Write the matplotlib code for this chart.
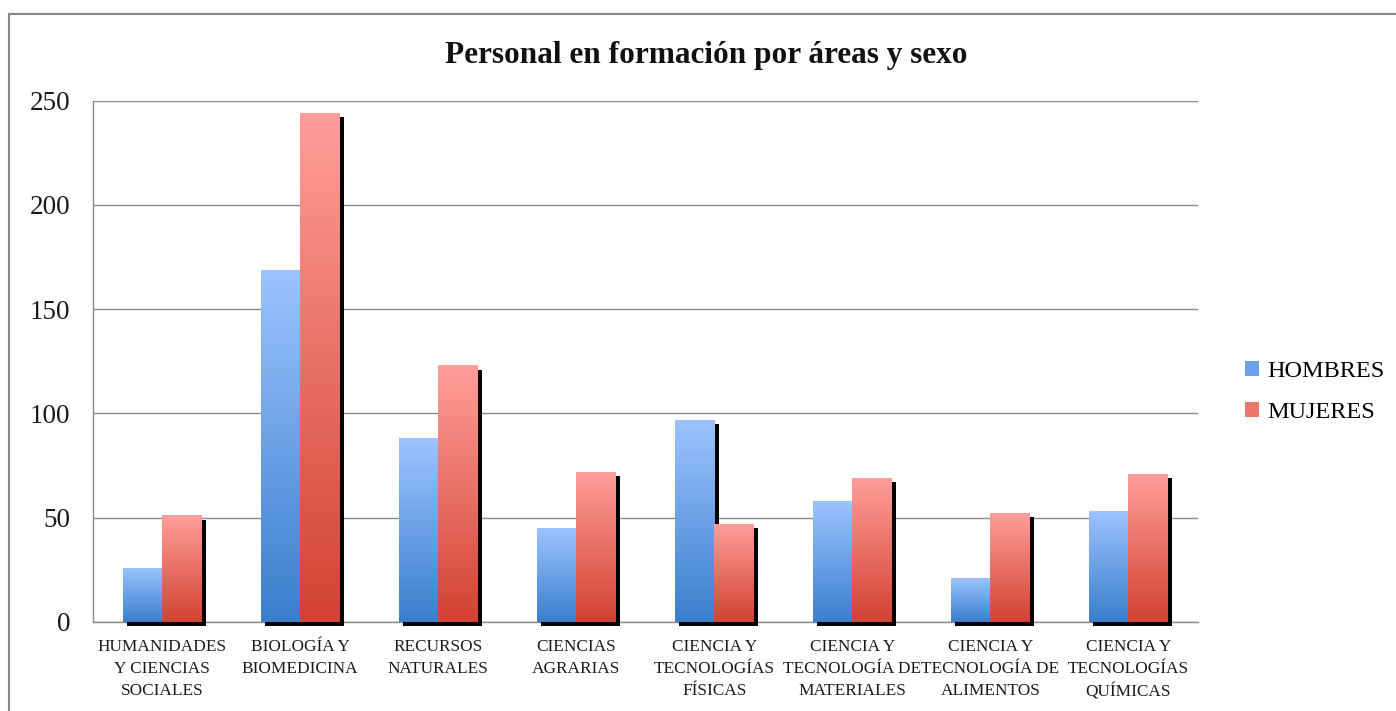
import numpy as np
import matplotlib
matplotlib.use("Agg")
import matplotlib.pyplot as plt
import matplotlib.patheffects as pe
from matplotlib.colors import LinearSegmentedColormap
from matplotlib.patches import Patch, Rectangle

# ---- data ----
categories = [
    "HUMANIDADES\nY CIENCIAS\nSOCIALES",
    "BIOLOGÍA Y\nBIOMEDICINA",
    "RECURSOS\nNATURALES",
    "CIENCIAS\nAGRARIAS",
    "CIENCIA Y\nTECNOLOGÍAS\nFÍSICAS",
    "CIENCIA Y\nTECNOLOGÍA DE\nMATERIALES",
    "CIENCIA Y\nTECNOLOGÍA DE\nALIMENTOS",
    "CIENCIA Y\nTECNOLOGÍAS\nQUÍMICAS",
]
hombres = [26, 169, 88, 45, 97, 58, 21, 53]
mujeres = [51, 244, 123, 72, 47, 69, 52, 71]
series_names = ["HOMBRES", "MUJERES"]
yticks = [0, 50, 100, 150, 200, 250]
title = "Personal en formación por áreas y sexo"

FONT = "Liberation Serif"
W, H = 1396, 711
fig = plt.figure(figsize=(W / 100, H / 100), dpi=100)
ax = fig.add_axes([93 / W, 1 - 621.7 / H, (1197.5 - 93) / W, (621.7 - 100.7) / H])

x = np.arange(len(categories))
bw = 1 / 3.5

blue_top, blue_bot = "#9DC3FF", "#3A7FCC"
red_top, red_bot = "#FF9E9A", "#D24232"

shadow = [pe.SimplePatchShadow(offset=(3.2, -3.0), shadow_rgbFace="black", alpha=1.0), pe.Normal()]

bars_h = ax.bar(x - bw / 2, hombres, bw, color=blue_bot, zorder=2, clip_on=False,
                path_effects=shadow, linewidth=0)
bars_m = ax.bar(x + bw / 2, mujeres, bw, color=red_bot, zorder=2.2, clip_on=False,
                path_effects=shadow, linewidth=0)


def gradient(bars, top, bot, z):
    cmap = LinearSegmentedColormap.from_list("g", [bot, top])
    grad = np.linspace(0, 1, 256).reshape(-1, 1)
    for b in bars:
        x0, y0, w, h = b.get_x(), b.get_y(), b.get_width(), b.get_height()
        im = ax.imshow(grad, extent=[x0, x0 + w, y0, y0 + h], origin="lower",
                       cmap=cmap, aspect="auto", zorder=z, interpolation="bicubic")
        im.set_clip_path(b)
        im.set_clip_on(True)


gradient(bars_h, blue_top, blue_bot, 2.1)
gradient(bars_m, red_top, red_bot, 2.3)

ax.set_xlim(-0.5, len(categories) - 0.5)
ax.set_ylim(0, 250)
ax.set_yticks(yticks)
ax.set_xticks(x)
ax.set_xticklabels(categories, fontfamily=FONT, fontsize=12.4, linespacing=1.5)
for t in ax.get_yticklabels():
    t.set_fontfamily(FONT)
    t.set_fontsize(19.5)
ax.tick_params(axis="y", length=0, pad=16.5, colors="#1a1a1a")
ax.tick_params(axis="x", length=0, pad=12.5, colors="#1a1a1a")
ax.grid(axis="y", color="#8a8a8a", linewidth=1.0, zorder=0)
ax.set_axisbelow(True)
for s in ["top", "right"]:
    ax.spines[s].set_visible(False)
for s in ["left", "bottom"]:
    ax.spines[s].set_color("#8a8a8a")
    ax.spines[s].set_linewidth(1.0)
    ax.spines[s].set_zorder(1)

fig.text(706 / W, 1 - 55 / H, title, ha="center", va="center",
         fontfamily=FONT, fontweight="bold", fontsize=22.5, color="#111111")

handles = [Patch(facecolor="#6DA0EA", edgecolor="none"), Patch(facecolor="#EC766C", edgecolor="none")]
fig.legend(handles, series_names, loc="center left", bbox_to_anchor=(1245 / W, 1 - 392 / H),
           frameon=False, prop={"family": FONT, "size": 17.5}, handlelength=0.58,
           handleheight=0.58, handletextpad=0.33, labelspacing=0.8, borderpad=0,
           borderaxespad=0)

# outer chart border
fig.add_artist(Rectangle((9 / W, -0.1), 2.0, 1.1 - 13.5 / H, transform=fig.transFigure,
                         fill=False, edgecolor="#888888", linewidth=1.5))

fig.savefig("out.png", dpi=100, facecolor="white")
